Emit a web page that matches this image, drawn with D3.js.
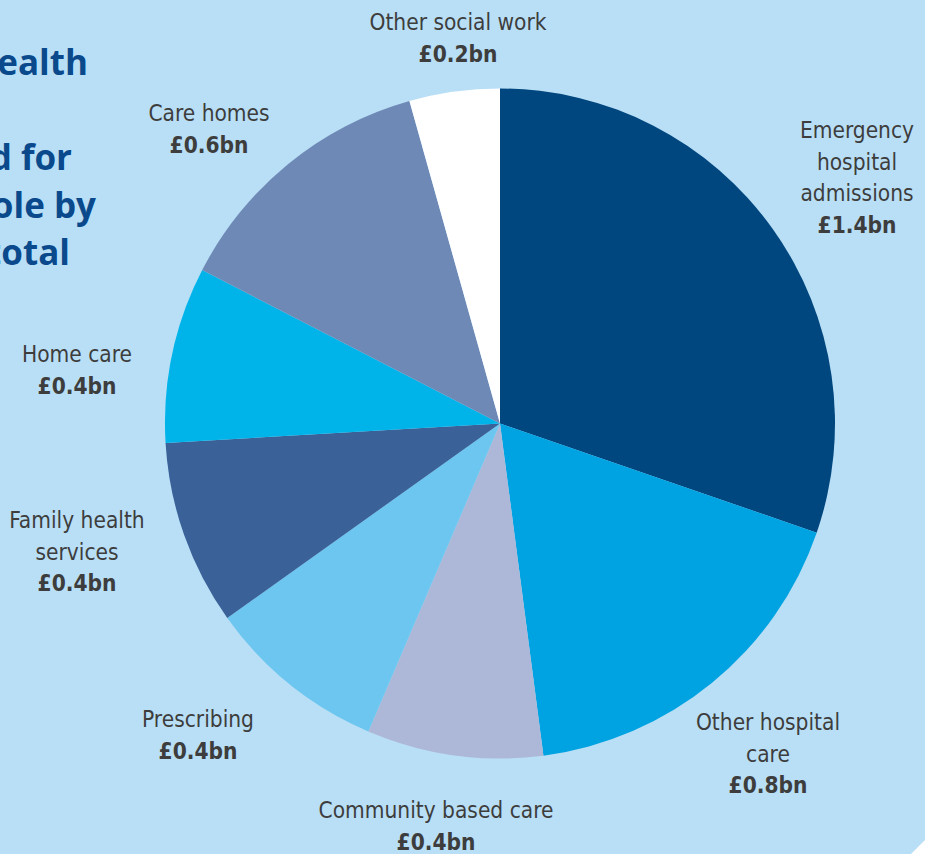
<!DOCTYPE html>
<html>
<head>
<meta charset="utf-8">
<script src="https://cdn.jsdelivr.net/npm/d3@7"></script>
<style>
  html, body { margin: 0; padding: 0; background: #b9dff6; }
  svg { display: block; }
</style>
</head>
<body>
<svg id="chart" width="925" height="854"></svg>
<script>
// ---- data ----
const categories = ["Emergency hospital admissions", "Other hospital care", "Community based care",
  "Prescribing", "Family health services", "Home care", "Care homes", "Other social work"];
const labelLines = [["Emergency", "hospital", "admissions"], ["Other hospital", "care"], ["Community based care"],
  ["Prescribing"], ["Family health", "services"], ["Home care"], ["Care homes"], ["Other social work"]];
const values = [1.39, 0.81, 0.39, 0.40, 0.41, 0.39, 0.60, 0.20];
const valueLabels = ["£1.4bn", "£0.8bn", "£0.4bn", "£0.4bn", "£0.4bn", "£0.4bn", "£0.6bn", "£0.2bn"];
const titleFragments = ["ealth", "d for", "ole by", "total"];

// ---- layout / style ----
const colors = ["#00467f", "#00a3e1", "#adb8d8", "#6dc6ef", "#3a6198", "#00b4e9", "#6f89b6", "#ffffff"];
const labelPos = [[857, 138], [768, 730], [436, 818], [198, 727], [77, 528], [77, 362], [209, 121], [458, 30]];
const titlePos = [[88, 75], [72, 170], [96, 218], [70, 265]];
const cx = 500, cy = 423.5, radius = 335;
const lineH = 31.6;

const svg = d3.select("#chart");

// background & cut corner
svg.append("rect").attr("width", 925).attr("height", 854).attr("fill", "#b9dff6");
svg.append("polygon").attr("points", "925,840 925,854 911,854").attr("fill", "#ffffff");

// title fragments (cut off at left)
svg.append("g").selectAll("text").data(titleFragments).join("text")
  .attr("x", (d, i) => titlePos[i][0]).attr("y", (d, i) => titlePos[i][1])
  .attr("text-anchor", "end")
  .attr("font-family", "'Open Sans', 'Noto Sans', sans-serif")
  .attr("font-weight", 700).attr("font-size", 35)
  .attr("fill", "#0a4a8c")
  .text(d => d);

// pie
const pie = d3.pie().sort(null).value(d => d);
const arc = d3.arc().innerRadius(0).outerRadius(radius);
const g = svg.append("g").attr("transform", `translate(${cx},${cy})`);
g.selectAll("path").data(pie(values)).join("path")
  .attr("d", arc)
  .attr("fill", (d, i) => colors[i]);

// labels
const lg = svg.append("g")
  .attr("font-family", "'Liberation Sans Narrow', 'DejaVu Sans Condensed', 'Roboto Condensed', sans-serif")
  .attr("fill", "#3d3d3d").attr("text-anchor", "middle");
categories.forEach((c, i) => {
  const t = lg.append("text").attr("x", labelPos[i][0]).attr("y", labelPos[i][1]).attr("font-size", 22.5);
  labelLines[i].forEach((ln, j) => {
    t.append("tspan").attr("x", labelPos[i][0]).attr("y", labelPos[i][1] + j * lineH).text(ln);
  });
  t.append("tspan").attr("x", labelPos[i][0]).attr("y", labelPos[i][1] + labelLines[i].length * lineH)
    .attr("font-weight", 700).text(valueLabels[i]);
});
</script>
</body>
</html>
